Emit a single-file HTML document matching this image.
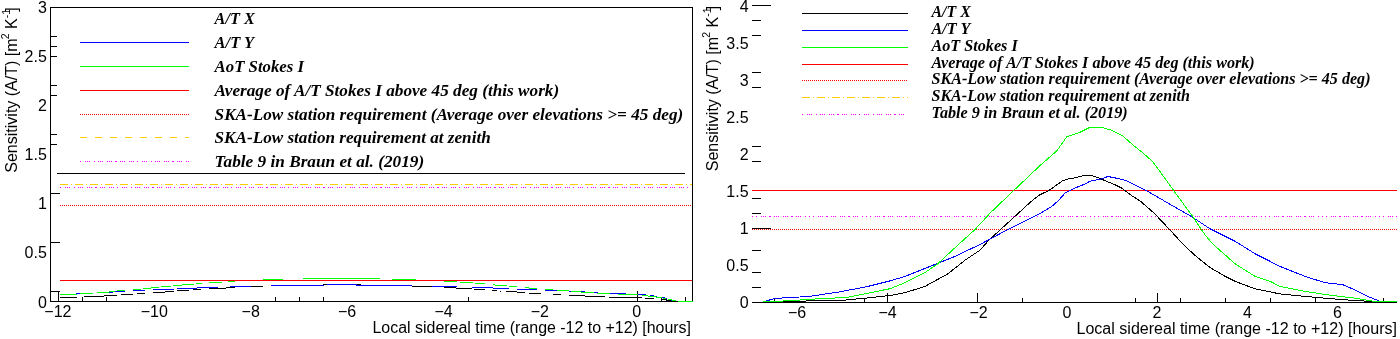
<!DOCTYPE html>
<html><head><meta charset="utf-8"><style>
html,body{margin:0;padding:0;background:#fff;width:1400px;height:339px;overflow:hidden}
svg{display:block;will-change:transform}
line,polyline,rect,path{shape-rendering:crispEdges}
.ax{font-family:"Liberation Sans",sans-serif;font-size:16px;fill:#000}
.ti{font-family:"Liberation Sans",sans-serif;font-size:16px;fill:#000}
.sup{font-family:"Liberation Sans",sans-serif;font-size:10.5px;fill:#000}
.lg2{font-family:"Liberation Serif",serif;font-size:17px;font-weight:bold;font-style:italic;fill:#000}
.lg{font-family:"Liberation Serif",serif;font-size:16px;font-weight:bold;font-style:italic;fill:#000}
</style></head><body>
<svg width="1400" height="339" viewBox="0 0 1400 339">
<rect width="1400" height="339" fill="#fff"/>
<rect x="50.5" y="7.5" width="642" height="294" fill="none" stroke="#000" stroke-width="1"/>
<line x1="50" y1="193.5" x2="60" y2="193.5" stroke="#000" stroke-width="1" />
<line x1="50" y1="242.5" x2="60" y2="242.5" stroke="#000" stroke-width="1" />
<line x1="50" y1="291.5" x2="60" y2="291.5" stroke="#000" stroke-width="1" />
<line x1="50" y1="36.5" x2="57" y2="36.5" stroke="#000" stroke-width="1" />
<line x1="50" y1="46.5" x2="57" y2="46.5" stroke="#000" stroke-width="1" />
<line x1="50" y1="56.5" x2="57" y2="56.5" stroke="#000" stroke-width="1" />
<line x1="50" y1="85.5" x2="57" y2="85.5" stroke="#000" stroke-width="1" />
<line x1="50" y1="95.5" x2="57" y2="95.5" stroke="#000" stroke-width="1" />
<line x1="50" y1="134.5" x2="57" y2="134.5" stroke="#000" stroke-width="1" />
<line x1="50" y1="144.5" x2="57" y2="144.5" stroke="#000" stroke-width="1" />
<line x1="58.5" y1="291" x2="58.5" y2="301" stroke="#000" stroke-width="1"/>
<line x1="637.5" y1="291" x2="637.5" y2="301" stroke="#000" stroke-width="1"/>
<line x1="82.5" y1="297" x2="82.5" y2="301" stroke="#000" stroke-width="1"/>
<line x1="106.5" y1="297" x2="106.5" y2="301" stroke="#000" stroke-width="1"/>
<line x1="275.5" y1="297" x2="275.5" y2="301" stroke="#000" stroke-width="1"/>
<line x1="299.5" y1="297" x2="299.5" y2="301" stroke="#000" stroke-width="1"/>
<line x1="323.5" y1="297" x2="323.5" y2="301" stroke="#000" stroke-width="1"/>
<line x1="468.5" y1="297" x2="468.5" y2="301" stroke="#000" stroke-width="1"/>
<line x1="661.5" y1="297" x2="661.5" y2="301" stroke="#000" stroke-width="1"/>
<line x1="685.5" y1="297" x2="685.5" y2="301" stroke="#000" stroke-width="1"/>
<text x="46.8" y="12.6" class="ax" text-anchor="end">3</text>
<text x="46.8" y="61.5" class="ax" text-anchor="end">2.5</text>
<text x="46.8" y="110.5" class="ax" text-anchor="end">2</text>
<text x="46.8" y="159.5" class="ax" text-anchor="end">1.5</text>
<text x="46.8" y="208.8" class="ax" text-anchor="end">1</text>
<text x="46.8" y="257.8" class="ax" text-anchor="end">0.5</text>
<text x="46.8" y="307.7" class="ax" text-anchor="end">0</text>
<text x="57.9" y="317" class="ax" text-anchor="middle">−12</text>
<text x="154.3" y="317" class="ax" text-anchor="middle">−10</text>
<text x="250.7" y="317" class="ax" text-anchor="middle">−8</text>
<text x="347.1" y="317" class="ax" text-anchor="middle">−6</text>
<text x="443.5" y="317" class="ax" text-anchor="middle">−4</text>
<text x="539.9" y="317" class="ax" text-anchor="middle">−2</text>
<text x="636.8" y="317" class="ax" text-anchor="middle">0</text>
<text x="372.5" y="333" class="ti" textLength="318.5" lengthAdjust="spacingAndGlyphs">Local sidereal time (range -12 to +12) [hours]</text>
<text transform="translate(17.0,172.7) rotate(-90)" class="ti">Sensitivity (A/T) [m</text>
<text transform="translate(9.4,39.3) rotate(-90)" class="sup">2</text>
<text transform="translate(17.0,28.9) rotate(-90)" class="ti">K</text>
<text transform="translate(10.0,18.2) rotate(-90)" class="sup">-1</text>
<text transform="translate(17.0,11.7) rotate(-90)" class="ti">]</text>
<line x1="60" y1="184.5" x2="692" y2="184.5" stroke="#ffcc00" stroke-width="1" stroke-dasharray="8 3 1 3"/>
<line x1="60" y1="187.5" x2="692" y2="187.5" stroke="#ff00ff" stroke-width="1" stroke-dasharray="1 4 1 1 1 1 1 4 1 3 1 1 1 1 1 4 1 1 1 1 1 3 2 3 1 1 1 1 1 4 1 1 1 1 1 3"/>
<line x1="60" y1="205.5" x2="692" y2="205.5" stroke="#ff0000" stroke-width="1" stroke-dasharray="1 1"/>
<path d="M60 297.5H77M84 296.5H104M104 295.5H117M121 294.5H133M137 293.5H145M153 292.5H165M165 291.5H174M177 290.5H189M193 289.5H201M209 288.5H226M226 287.5H235M251 286.5H263M323 284.5H327M356 284.5H361M412 286.5H432M444 287.5H456M456 288.5H472M474 289.5H485M492 290.5H497M500 291.5H501M506 291.5H517M517 292.5H525M529 293.5H541M553 294.5H561M569 295.5H585M585 296.5H605M609 297.5H642M645 298.5H654M662 299.5H667M666 300.5H672" fill="none" stroke="#000" stroke-width="1"/>
<path d="M76 293.5H80M109 292.5H113M115 291.5H125M133 290.5H145M153 289.5H174M177 288.5H197M197 287.5H218M230 286.5H251M271 285.5H324M327 284.5H357M356 285.5H412M432 286.5H457M472 287.5H493M493 288.5H509M517 289.5H537M545 290.5H557M569 291.5H571M581 291.5H585M594 292.5H598M610 293.5H626M638 294.5H646M650 295.5H654M654 296.5H657M662 297.5H665M665 298.5H667M671 300.5H673" fill="none" stroke="#0000ff" stroke-width="1"/>
<path d="M60 294.5H77M80 293.5H93M97 292.5H109M109 291.5H115M117 290.5H125M133 289.5H141M143 288.5H151M151 287.5H159M161 286.5H171M173 285.5H182M182 284.5H194M196 283.5H202M209 282.5H222M228 281.5H235M263 279.5H283M303 278.5H380M392 279.5H416M444 281.5H457M460 282.5H473M475 283.5H485M493 284.5H495M495 285.5H507M509 286.5H517M525 287.5H529M529 288.5H537M545 289.5H553M557 290.5H569M571 291.5H581M581 292.5H594M597 293.5H610M618 294.5H638M642 295.5H648M648 296.5H656M656 297.5H662M663 298.5H666M668 299.5H672M672 300.5H676M678 301.5H693" fill="none" stroke="#00ff00" stroke-width="1"/>
<line x1="60" y1="280.5" x2="692" y2="280.5" stroke="#ff0000" stroke-width="1" />
<line x1="57" y1="173.5" x2="685" y2="173.5" stroke="#000" stroke-width="1" />
<text x="214.6" y="23.5" class="lg" textLength="40.3" lengthAdjust="spacingAndGlyphs">A/T X</text>
<line x1="80" y1="42.5" x2="189" y2="42.5" stroke="#0000ff" stroke-width="1" />
<text x="214.6" y="47.5" class="lg" textLength="39.6" lengthAdjust="spacingAndGlyphs">A/T Y</text>
<line x1="80" y1="66.5" x2="189" y2="66.5" stroke="#00ff00" stroke-width="1" />
<text x="214.6" y="71.5" class="lg" textLength="89.4" lengthAdjust="spacingAndGlyphs">AoT Stokes I</text>
<line x1="80" y1="90.5" x2="189" y2="90.5" stroke="#ff0000" stroke-width="1" />
<text x="214.6" y="95.5" class="lg" textLength="344.6" lengthAdjust="spacingAndGlyphs">Average of A/T Stokes I above 45 deg (this work)</text>
<line x1="80" y1="114.5" x2="189" y2="114.5" stroke="#ff0000" stroke-width="1" stroke-dasharray="1 1"/>
<text x="214.6" y="119.5" class="lg" textLength="468.6" lengthAdjust="spacingAndGlyphs">SKA-Low station requirement (Average over elevations &gt;= 45 deg)</text>
<line x1="80" y1="137.5" x2="189" y2="137.5" stroke="#ffcc00" stroke-width="1" stroke-dasharray="7 8"/>
<text x="214.6" y="142.5" class="lg" textLength="276.1" lengthAdjust="spacingAndGlyphs">SKA-Low station requirement at zenith</text>
<line x1="80" y1="161.5" x2="189" y2="161.5" stroke="#ff00ff" stroke-width="1" stroke-dasharray="1 4 1 1 1 1 1 4 1 3 1 1 1 1 1 4 1 1 1 1 1 3 2 3 1 1 1 1 1 4 1 1 1 1 1 3"/>
<text x="214.6" y="166.5" class="lg" textLength="209.6" lengthAdjust="spacingAndGlyphs">Table 9 in Braun et al. (2019)</text>
<line x1="752" y1="302.5" x2="1397" y2="302.5" stroke="#000" stroke-width="1" />
<line x1="752" y1="5.5" x2="771" y2="5.5" stroke="#000" stroke-width="1" />
<line x1="752" y1="228.5" x2="771" y2="228.5" stroke="#000" stroke-width="1" />
<line x1="752" y1="20.5" x2="761" y2="20.5" stroke="#000" stroke-width="1" />
<line x1="752" y1="35.5" x2="761" y2="35.5" stroke="#000" stroke-width="1" />
<line x1="752" y1="72.5" x2="761" y2="72.5" stroke="#000" stroke-width="1" />
<line x1="752" y1="87.5" x2="761" y2="87.5" stroke="#000" stroke-width="1" />
<line x1="752" y1="146.5" x2="761" y2="146.5" stroke="#000" stroke-width="1" />
<line x1="752" y1="161.5" x2="761" y2="161.5" stroke="#000" stroke-width="1" />
<line x1="752" y1="198.5" x2="761" y2="198.5" stroke="#000" stroke-width="1" />
<line x1="752" y1="213.5" x2="761" y2="213.5" stroke="#000" stroke-width="1" />
<line x1="752" y1="250.5" x2="761" y2="250.5" stroke="#000" stroke-width="1" />
<line x1="752" y1="272.5" x2="761" y2="272.5" stroke="#000" stroke-width="1" />
<line x1="752" y1="287.5" x2="761" y2="287.5" stroke="#000" stroke-width="1" />
<line x1="887.5" y1="293" x2="887.5" y2="302" stroke="#000" stroke-width="1"/>
<line x1="977.5" y1="293" x2="977.5" y2="302" stroke="#000" stroke-width="1"/>
<line x1="1157.5" y1="293" x2="1157.5" y2="302" stroke="#000" stroke-width="1"/>
<line x1="774.5" y1="298" x2="774.5" y2="302" stroke="#000" stroke-width="1"/>
<line x1="864.5" y1="298" x2="864.5" y2="302" stroke="#000" stroke-width="1"/>
<line x1="1022.5" y1="298" x2="1022.5" y2="302" stroke="#000" stroke-width="1"/>
<line x1="1135.5" y1="298" x2="1135.5" y2="302" stroke="#000" stroke-width="1"/>
<line x1="1180.5" y1="298" x2="1180.5" y2="302" stroke="#000" stroke-width="1"/>
<line x1="1225.5" y1="298" x2="1225.5" y2="302" stroke="#000" stroke-width="1"/>
<line x1="1270.5" y1="298" x2="1270.5" y2="302" stroke="#000" stroke-width="1"/>
<line x1="1315.5" y1="298" x2="1315.5" y2="302" stroke="#000" stroke-width="1"/>
<line x1="1383.5" y1="298" x2="1383.5" y2="302" stroke="#000" stroke-width="1"/>
<text x="748.6" y="11.8" class="ax" text-anchor="end">4</text>
<text x="748.6" y="48.9" class="ax" text-anchor="end">3.5</text>
<text x="748.6" y="85.9" class="ax" text-anchor="end">3</text>
<text x="748.6" y="123.0" class="ax" text-anchor="end">2.5</text>
<text x="748.6" y="160.0" class="ax" text-anchor="end">2</text>
<text x="748.6" y="197.1" class="ax" text-anchor="end">1.5</text>
<text x="748.6" y="234.2" class="ax" text-anchor="end">1</text>
<text x="748.6" y="271.2" class="ax" text-anchor="end">0.5</text>
<text x="748.6" y="308.3" class="ax" text-anchor="end">0</text>
<text x="797" y="317.8" class="ax" text-anchor="middle">−6</text>
<text x="887.5" y="317.8" class="ax" text-anchor="middle">−4</text>
<text x="978.5" y="317.8" class="ax" text-anchor="middle">−2</text>
<text x="1067" y="317.8" class="ax" text-anchor="middle">0</text>
<text x="1157" y="317.8" class="ax" text-anchor="middle">2</text>
<text x="1247.5" y="317.8" class="ax" text-anchor="middle">4</text>
<text x="1337.5" y="317.8" class="ax" text-anchor="middle">6</text>
<text x="1076.5" y="334" class="ti" textLength="320.5" lengthAdjust="spacingAndGlyphs">Local sidereal time (range -12 to +12) [hours]</text>
<text transform="translate(718.0,171.2) rotate(-90)" class="ti">Sensitivity (A/T) [m</text>
<text transform="translate(710.4,37.8) rotate(-90)" class="sup">2</text>
<text transform="translate(718.0,27.4) rotate(-90)" class="ti">K</text>
<text transform="translate(711.0,16.7) rotate(-90)" class="sup">-1</text>
<text transform="translate(718.0,10.2) rotate(-90)" class="ti">]</text>
<line x1="752" y1="190.5" x2="1397" y2="190.5" stroke="#ff0000" stroke-width="1" />
<line x1="752" y1="216.5" x2="1397" y2="216.5" stroke="#ff00ff" stroke-width="1" stroke-dasharray="2 3 1 1 1 1 1 4 1 1 1 1 1 3 2 3 1 1 1 1 1 4 1 3 1 3 1 4 1 1 1 1 1 3" stroke-dashoffset="40"/>
<line x1="752" y1="229.5" x2="1397" y2="229.5" stroke="#ff0000" stroke-width="1" stroke-dasharray="1 1"/>
<polyline points="762.7,302.0 789.0,301.3 841.5,300.4 866.8,298.0 890.0,295.5 905.0,292.7 925.0,286.4 947.7,273.9 965.2,260.1 980.3,250.0 987.8,241.3 1000.0,230.0 1023.9,208.1 1030.0,202.5 1038.8,195.4 1049.5,190.1 1061.9,181.2 1067.2,179.1 1076.0,177.7 1083.1,175.6 1091.9,175.6 1097.3,177.3 1104.3,180.4 1115.0,184.8 1122.0,188.3 1130.0,194.5 1140.7,201.4 1154.2,213.2 1170.0,230.0 1185.0,246.3 1197.6,257.6 1210.1,267.6 1225.2,276.4 1235.2,281.4 1255.2,288.9 1280.0,293.9 1305.1,296.4 1342.7,299.7 1380.3,302.0" fill="none" stroke="#000" stroke-width="1"/>
<polyline points="762.7,301.9 775.3,298.4 808.4,296.5 837.6,292.2 866.8,286.7 890.0,280.9 905.0,276.4 930.0,266.4 955.2,256.3 980.3,244.3 1000.2,233.6 1030.0,218.4 1040.6,213.1 1051.2,206.9 1058.3,200.7 1065.4,192.7 1074.2,188.3 1083.1,184.8 1090.2,181.2 1100.8,179.1 1107.9,176.5 1118.5,178.6 1125.6,180.4 1133.9,184.4 1147.5,191.2 1167.8,203.0 1191.5,216.6 1210.1,228.8 1235.2,241.3 1255.2,253.8 1280.0,266.4 1305.1,276.4 1325.1,282.7 1342.7,284.7 1352.7,288.9 1367.7,296.4 1380.3,301.5" fill="none" stroke="#0000ff" stroke-width="1"/>
<polyline points="762.7,302.0 789.0,300.7 818.1,298.8 847.4,297.4 870.7,292.6 890.0,288.7 905.0,282.7 925.0,272.6 937.6,263.9 955.2,247.6 975.2,229.3 990.0,213.2 1013.7,190.5 1040.0,165.6 1056.5,151.2 1066.9,136.7 1079.3,132.6 1089.6,127.4 1095.8,127.8 1102.0,127.4 1112.3,130.5 1122.6,135.7 1133.0,145.0 1143.3,153.2 1152.6,161.5 1161.0,173.0 1172.9,189.5 1191.5,214.9 1205.1,234.9 1212.6,243.8 1235.2,263.9 1255.2,276.4 1270.3,281.4 1280.0,286.4 1305.1,291.4 1330.1,295.2 1355.2,298.2 1375.2,301.5 1397.0,301.5" fill="none" stroke="#00ff00" stroke-width="1"/>
<line x1="802" y1="13.5" x2="908" y2="13.5" stroke="#000" stroke-width="1" />
<text x="931.5" y="17.3" class="lg2" textLength="39.3" lengthAdjust="spacingAndGlyphs">A/T X</text>
<line x1="802" y1="30.5" x2="908" y2="30.5" stroke="#0000ff" stroke-width="1" />
<text x="931.5" y="34.3" class="lg2" textLength="39.0" lengthAdjust="spacingAndGlyphs">A/T Y</text>
<line x1="802" y1="47.5" x2="908" y2="47.5" stroke="#00ff00" stroke-width="1" />
<text x="931.5" y="51.3" class="lg2" textLength="86.2" lengthAdjust="spacingAndGlyphs">AoT Stokes I</text>
<line x1="802" y1="64.5" x2="908" y2="64.5" stroke="#ff0000" stroke-width="1" />
<text x="931.5" y="68.3" class="lg2" textLength="323.2" lengthAdjust="spacingAndGlyphs">Average of A/T Stokes I above 45 deg (this work)</text>
<line x1="802" y1="80.5" x2="908" y2="80.5" stroke="#ff0000" stroke-width="1" stroke-dasharray="1 1"/>
<text x="931.5" y="84.3" class="lg2" textLength="439.0" lengthAdjust="spacingAndGlyphs">SKA-Low station requirement (Average over elevations &gt;= 45 deg)</text>
<line x1="802" y1="97.5" x2="908" y2="97.5" stroke="#ffcc00" stroke-width="1" stroke-dasharray="8 3 1 3"/>
<text x="931.5" y="101.3" class="lg2" textLength="258.5" lengthAdjust="spacingAndGlyphs">SKA-Low station requirement at zenith</text>
<line x1="802" y1="114.5" x2="908" y2="114.5" stroke="#ff00ff" stroke-width="1" stroke-dasharray="1 4 1 1 1 1 1 4 1 3 1 1 1 1 1 4 1 1 1 1 1 3 2 3 1 1 1 1 1 4 1 1 1 1 1 3"/>
<text x="931.5" y="118.3" class="lg2" textLength="196.2" lengthAdjust="spacingAndGlyphs">Table 9 in Braun et al. (2019)</text>
</svg>
</body></html>
